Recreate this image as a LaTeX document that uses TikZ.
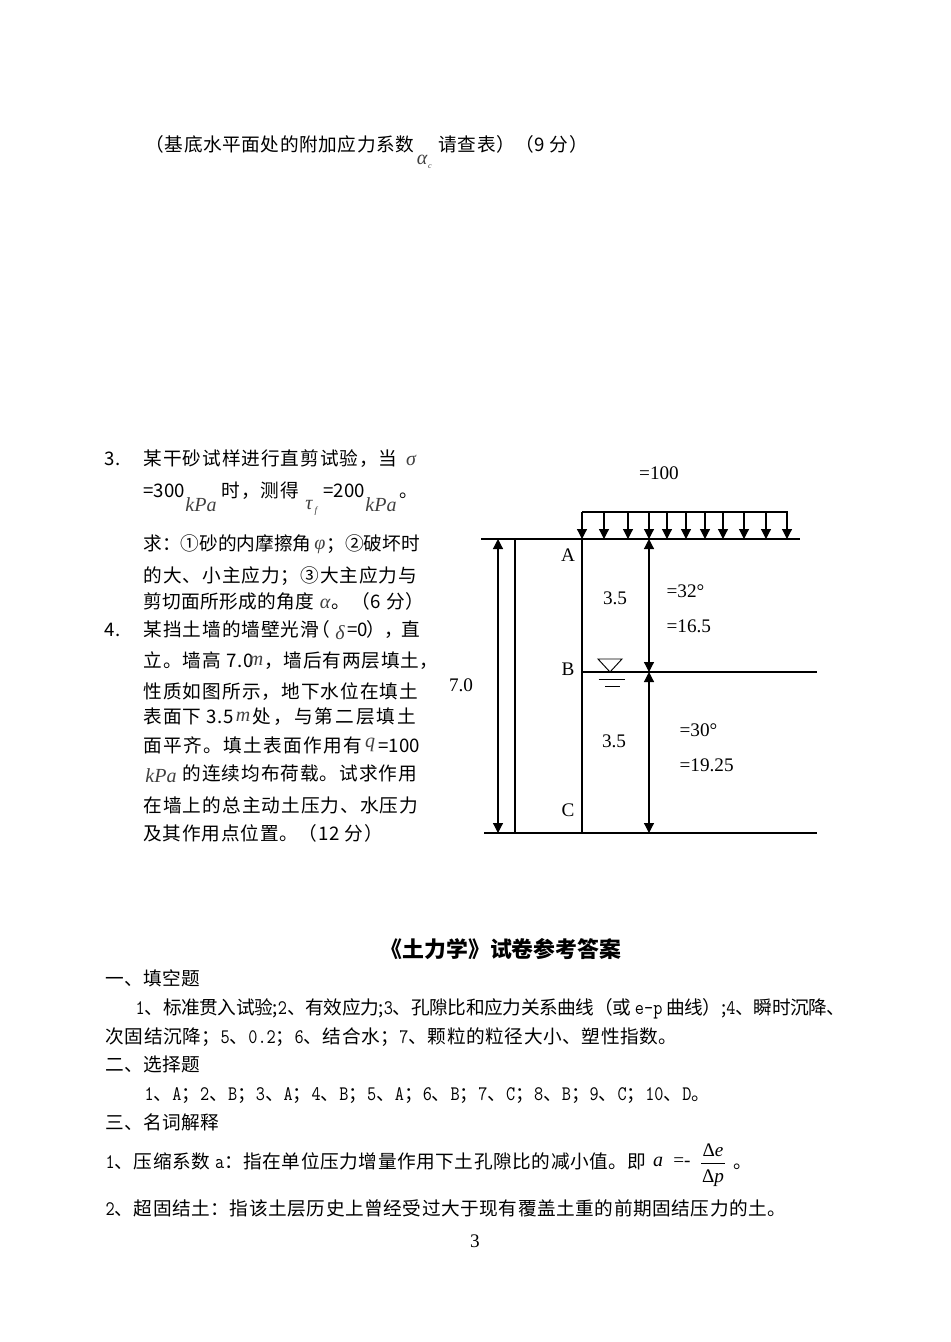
\documentclass[tikz,border=0pt]{standalone}
\usepackage{fontspec}
\setmainfont{Noto Sans CJK SC}
\setmonofont{Latin Modern Mono}[FakeStretch=0.86]
\newfontfamily\tm{Liberation Serif}
\newcommand{\mo}[1]{{\ttfamily\fontsize{15.5}{16}\selectfont #1}}
\usetikzlibrary{arrows.meta,positioning}
\tikzset{
  txt/.style={anchor=base west,inner sep=0pt,font=\fontsize{14}{16}\selectfont},
  lsp/.style={txt,font=\fontsize{14}{16}\selectfont\addfontfeatures{LetterSpace=#1}},
  lefttxt/.style={lsp=5},
  lbl/.style={inner sep=0pt,font=\fontsize{14.4}{16}\selectfont\tm},
  soil/.style={lbl,anchor=west},
  mvar/.style={inner sep=0pt,text=black!75,font=\fontsize{15}{16}\selectfont\tm\itshape},
  thin line/.style={line width=0.9pt},
}
\begin{document}
\begin{tikzpicture}[x=0.75pt,y=0.75pt,>={Triangle[length=7.5pt,width=7.5pt]},thin line]
  \useasboundingbox (0,0) rectangle (950,-1342);
  % top line
  \node[lsp=3] (note1) at (145,-151) {（基底水平面处的附加应力系数};
  \node[mvar] (alphac) at (422,-160) {α};
  \node[mvar,font=\fontsize{6}{7}\selectfont\tm\itshape] (alphacsub) at (430,-167) {c};
  \node[lsp=3] (note2) at (438,-151) {请查表）（9 分）};
  % question 3
  \node[lefttxt] (qthree) at (104,-465) {3.};
  \node[lefttxt] (q3a) at (143,-465) {某干砂试样进行直剪试验，当};
  \node[mvar] (sigma) at (411,-460) {σ};
  \node[txt] (q3b) at (143,-497) {=300};
  \node[mvar] (kpaa) at (201,-505) {kPa};
  \node[lefttxt] (q3c) at (221,-497) {时，测得};
  \node[mvar] (tau) at (309,-505) {τ};
  \node[mvar,font=\fontsize{7}{8}\selectfont\tm\itshape] (tausub) at (316,-511) {f};
  \node[txt] (q3d) at (323,-497) {=200};
  \node[mvar] (kpab) at (381,-505) {kPa};
  \node[lefttxt] (q3e) at (399,-497) {。};
  \node[lsp=0] (q3f) at (143,-550) {求：①砂的内摩擦角};
  \node[mvar] (phi) at (320,-547) {φ};
  \node[lsp=0] (q3g) at (326,-550) {；②破坏时};
  \node[lefttxt] (q3h) at (143,-582) {的大、小主应力；③大主应力与};
  \node[lsp=2] (q3i) at (143,-608) {剪切面所形成的角度};
  \node[mvar] (alpha) at (325,-604) {α};
  \node[lefttxt] (q3j) at (331,-608) {。（6 分）};
  % question 4
  \node[lefttxt] (qfour) at (104,-636) {4.};
  \node[lefttxt] (q4a) at (143,-636) {某挡土墙的墙壁光滑\kern-6pt（};
  \node[mvar] (delta) at (340,-633) {δ};
  \node[lsp=-5] (q4b) at (347,-636) {=0），直};
  \node[lefttxt] (q4c) at (143,-667) {立。墙高 7.0};
  \node[mvar] (ma) at (256,-661) {m};
  \node[lsp=4] (q4d) at (264,-667) {，墙后有两层填土，};
  \node[lsp=5.5] (q4e) at (143,-698) {性质如图所示，地下水位在填土};
  \node[lefttxt] (q4f) at (143,-723) {表面下 3.5};
  \node[mvar] (mb) at (243,-717) {m};
  \node[lsp=11] (q4g) at (252,-723) {处，与第二层填土};
  \node[lsp=7] (q4h) at (143,-752) {面平齐。填土表面作用有};
  \node[mvar] (qload) at (370,-745) {q};
  \node[txt] (q4i) at (378,-752) {=100};
  \node[mvar] (kpac) at (161,-776) {kPa};
  \node[lefttxt] (q4j) at (182,-780) {的连续均布荷载。试求作用};
  \node[lsp=5.5] (q4k) at (143,-812) {在墙上的总主动土压力、水压力};
  \node[lsp=4] (q4l) at (143,-840) {及其作用点位置。（12 分）};
  % wall and soil
  \coordinate (topl) at (481,-539);
  \coordinate (topr) at (800,-539);
  \coordinate (botl) at (484,-833);
  \coordinate (botr) at (817,-833);
  \coordinate (A) at (582,-539);
  \coordinate (B) at (582,-672);
  \coordinate (C) at (582,-833);
  \coordinate (Bright) at (817,-672);
  \coordinate (wallt) at (515,-539);
  \coordinate (wallb) at (515,-833);
  \draw (topl) -- (topr);
  \draw (botl) -- (botr);
  \draw (A) -- (C);
  \draw (B) -- (Bright);
  \draw (wallt) -- (wallb);
  % load
  \coordinate (loadl) at (582,-512);
  \coordinate (loadr) at (788,-512);
  \draw (loadl) -- (loadr);
  \draw[->] (loadl) -- (A);
  \foreach \i/\x in {b/604,c/628,d/649,e/667,f/686,g/705,h/723,i/744,j/766,k/787}{
    \coordinate (lt\i) at (\x,-513);
    \coordinate (lb\i) at (\x,-539);
    \draw[->] (lt\i) -- (lb\i);
  }
  % dimensions
  \coordinate (dimt) at (498,-539);
  \coordinate (dimb) at (498,-833);
  \draw[<->] (dimt) -- (dimb);
  \coordinate (midt) at (649,-539);
  \coordinate (midm) at (649,-672);
  \coordinate (midb) at (649,-833);
  \draw[<->] (midt) -- (midm);
  \draw[<->] (midm) -- (midb);
  % water level
  \coordinate (wl) at (598,-659);
  \coordinate (wr) at (622,-659);
  \coordinate (wb) at (610,-672);
  \draw[line width=0.7pt] (wl) -- (wr) -- (wb) -- cycle;
  \coordinate (wa) at (598.5,-679);
  \coordinate (waa) at (625,-679);
  \coordinate (wc) at (605,-686);
  \coordinate (wcc) at (620,-686);
  \draw[line width=0.7pt] (wa) -- (waa);
  \draw[line width=0.7pt] (wc) -- (wcc);
  % labels
  \node[lbl] (q) at (659,-473) {=100};
  \node[lbl] (la) at (568,-555) {A};
  \node[lbl] (lb) at (568,-669) {B};
  \node[lbl] (lc) at (568,-810) {C};
  \node[lbl] (ha) at (615,-598) {3.5};
  \node[lbl] (hb) at (614,-741) {3.5};
  \node[lbl] (ht) at (461,-685) {7.0};
  \node[soil] (phia) at (666,-591) {=32°};
  \node[soil] (gama) at (666,-626) {=16.5};
  \node[soil] (phib) at (679,-730) {=30°};
  \node[soil] (gamb) at (679,-765) {=19.25};
  % answers
  \node[txt,anchor=base,font=\fontsize{16.4}{18}\selectfont\bfseries] (title) at (501,-957) {《土力学》试卷参考答案};
  \node[lsp=2] (s1) at (105,-985) {一、填空题};
  \node[lsp=-2] (a1) at (135,-1014) {\mo{1}、标准贯入试验;\mo{2}、有效应力;\mo{3}、孔隙比和应力关系曲线（或 \mo{e-p} 曲线）;\mo{4}、瞬时沉降、};
  \node[lsp=3.2] (a2) at (105,-1043) {次固结沉降；\mo{5}、\mo{0.2}；\mo{6}、结合水；\mo{7}、颗粒的粒径大小、塑性指数。};
  \node[lsp=2] (s2) at (105,-1071) {二、选择题};
  \node[lsp=1.6] (a3) at (144,-1100) {\mo{1}、\mo{A}；\mo{2}、\mo{B}；\mo{3}、\mo{A}；\mo{4}、\mo{B}；\mo{5}、\mo{A}；\mo{6}、\mo{B}；\mo{7}、\mo{C}；\mo{8}、\mo{B}；\mo{9}、\mo{C}；\mo{10}、\mo{D}。};
  \node[lsp=2] (s3) at (105,-1129) {三、名词解释};
  \node[lsp=3] (a4) at (105,-1168) {\mo{1}、压缩系数 \mo{a}：指在单位压力增量作用下土孔隙比的减小值。即};
  \node[mvar,text=black] (aa) at (658,-1162) {a};
  \node[lbl] (eqs) at (682,-1162) {=-};
  \node[lbl] (de) at (713,-1150) {Δ{\itshape e}};
  \node[lbl] (dp) at (713,-1178) {Δ{\itshape p}};
  \coordinate (barl) at (701,-1163);
  \coordinate (barr) at (725,-1163);
  \draw[line width=0.5pt] (barl) -- (barr);
  \node[txt] (dot) at (733,-1168) {。};
  \node[lsp=2.9] (a5) at (105,-1215) {\mo{2}、超固结土：指该土层历史上曾经受过大于现有覆盖土重的前期固结压力的土。};
  \node[lbl] (page) at (475,-1241) {3};
\end{tikzpicture}
\end{document}
